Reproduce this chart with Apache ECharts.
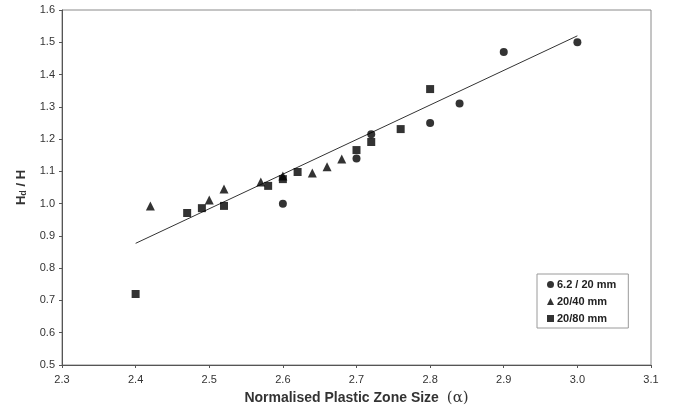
<!DOCTYPE html>
<html>
<head>
<meta charset="utf-8">
<script src="https://cdn.jsdelivr.net/npm/echarts@6/dist/echarts.min.js"></script>
<style>
  html, body { margin: 0; padding: 0; background: #fff; }
  #chart { width: 674px; height: 411px; }
</style>
</head>
<body>
<div id="chart"></div>
<script>
// 6.2 / 20 mm
const circleX = [2.60, 2.70, 2.72, 2.80, 2.84, 2.90, 3.00];
const circleY = [1.00, 1.14, 1.215, 1.25, 1.31, 1.47, 1.50];
// 20/40 mm
const triX = [2.42, 2.50, 2.52, 2.57, 2.60, 2.64, 2.66, 2.68];
const triY = [0.993, 1.011, 1.045, 1.067, 1.086, 1.095, 1.114, 1.138];
// 20/80 mm
const sqX = [2.40, 2.47, 2.49, 2.52, 2.58, 2.60, 2.62, 2.70, 2.72, 2.76, 2.80];
const sqY = [0.72, 0.971, 0.986, 0.993, 1.055, 1.076, 1.098, 1.166, 1.191, 1.231, 1.355];
// fitted line
const fitX = [2.40, 3.00];
const fitY = [0.877, 1.52];

const zip = (xs, ys) => xs.map((x, i) => [x, ys[i]]);

const chart = echarts.init(document.getElementById('chart'));
const font = 'Arial, "Liberation Sans", sans-serif';

const option = {
  animation: false,
  textStyle: { fontFamily: font },
  grid: {
    left: 62, right: 23, top: 10, bottom: 46,
    show: true, borderColor: '#8a8a8a', borderWidth: 1
  },
  legend: {
    orient: 'vertical',
    left: 537, top: 274,
    width: 95,
    padding: [5, 12, 4, 10],
    itemGap: 6,
    itemWidth: 7, itemHeight: 7,
    borderColor: '#9a9a9a', borderWidth: 1,
    backgroundColor: '#fff',
    textStyle: { fontSize: 11, fontWeight: 'bold', color: '#222', fontFamily: font, padding: [0, 0, 0, -2] },
    data: [
      { name: '6.2 / 20 mm', icon: 'circle' },
      { name: '20/40 mm', icon: 'triangle' },
      { name: '20/80 mm', icon: 'rect' }
    ]
  },
  xAxis: {
    type: 'value', min: 2.3, max: 3.1, interval: 0.1,
    name: 'Normalised Plastic Zone Size {a|(α)}',
    nameLocation: 'middle', nameGap: 26,
    nameTextStyle: {
      fontSize: 14, fontWeight: 'bold', color: '#333', fontFamily: font,
      rich: { a: { fontSize: 15, fontWeight: 'normal', fontFamily: '"DejaVu Serif", "Liberation Serif", serif', color: '#333', padding: [0, 0, 0, 4] } }
    },
    axisLine: { lineStyle: { color: '#555' } },
    axisTick: { length: 3, lineStyle: { color: '#555' } },
    splitLine: { show: false },
    axisLabel: { fontSize: 11, color: '#333', margin: 9, formatter: v => v.toFixed(1) }
  },
  yAxis: {
    type: 'value', min: 0.5, max: 1.6, interval: 0.1,
    name: 'H{s|d} / H',
    nameLocation: 'middle', nameGap: 34, nameRotate: 90,
    nameTextStyle: {
      fontSize: 13, fontWeight: 'bold', color: '#333', fontFamily: font,
      rich: { s: { fontSize: 9, fontWeight: 'bold', color: '#333', verticalAlign: 'bottom', padding: [4, 0, 0, 0] } }
    },
    axisLine: { show: true, lineStyle: { color: '#555' } },
    axisTick: { show: true, length: 3, lineStyle: { color: '#555' } },
    splitLine: { show: false },
    axisLabel: { fontSize: 11, color: '#333', margin: 7, formatter: v => v.toFixed(1) }
  },
  series: [
    {
      type: 'line', name: 'fit', data: zip(fitX, fitY),
      symbol: 'none', lineStyle: { color: '#333', width: 1 }, z: 1
    },
    {
      type: 'scatter', name: '6.2 / 20 mm', data: zip(circleX, circleY),
      symbol: 'circle', symbolSize: 8, itemStyle: { color: '#000' }
    },
    {
      type: 'scatter', name: '20/40 mm', data: zip(triX, triY),
      symbol: 'triangle', symbolSize: 9, itemStyle: { color: '#000' }
    },
    {
      type: 'scatter', name: '20/80 mm', data: zip(sqX, sqY),
      symbol: 'rect', symbolSize: 8, itemStyle: { color: '#000' }
    }
  ]
};
chart.setOption(option);
</script>
</body>
</html>
